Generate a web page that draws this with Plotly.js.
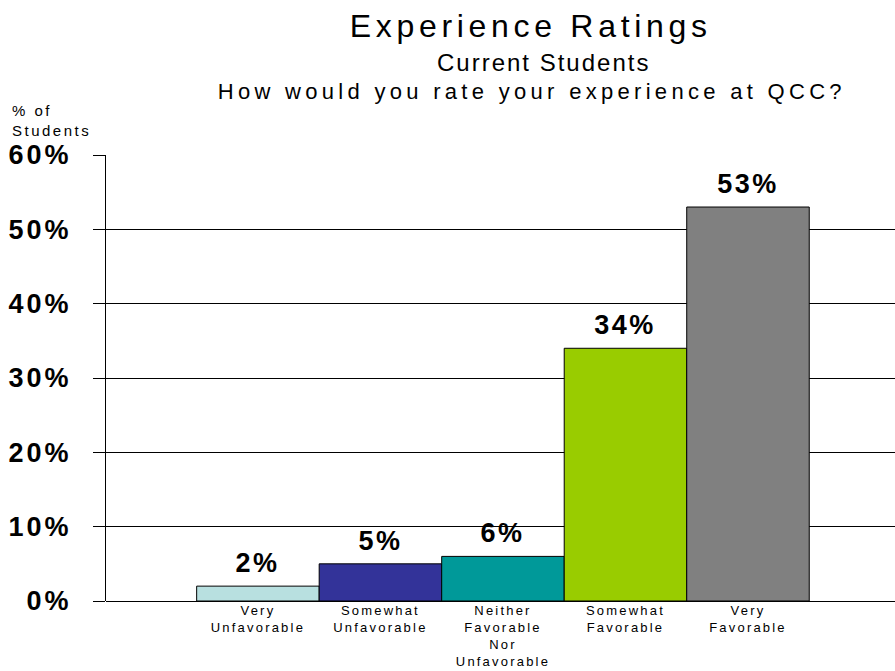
<!DOCTYPE html>
<html>
<head>
<meta charset="utf-8">
<script src="https://cdn.plot.ly/plotly-3.0.1.min.js"></script>
<style>
  html, body { margin: 0; padding: 0; background: #fff; }
  #chart { width: 895px; height: 671px; }
  .gtitle { letter-spacing: 4.7px; }
</style>
</head>
<body>
<div id="chart"></div>
<script>
// Data
const categories = ["Very<br>Unfavorable", "Somewhat<br>Unfavorable", "Neither<br>Favorable<br>Nor<br>Unfavorable", "Somewhat<br>Favorable", "Very<br>Favorable"];
const values = [2, 5, 6, 34, 53];
const barColors = ["#B8E0E0", "#333399", "#009999", "#99CC00", "#808080"];
const yTickVals = [0, 10, 20, 30, 40, 50, 60];
const yTickText = ["0%", "10%", "20%", "30%", "40%", "50%", "60%"];
const titleLines = ["Experience Ratings", "Current Students", "How would you rate your experience at QCC?"];
const yTitle = "% of<br>Students";

const FONT = "Liberation Sans, Arial, sans-serif";

const trace = {
  type: "bar",
  x: categories,
  y: values,
  marker: { color: barColors, line: { color: "#000", width: 1 } },
  hoverinfo: "skip"
};

const annotations = values.map((v, i) => ({
  x: categories[i], y: v, xref: "x", yref: "y",
  text: "<b>" + v + "%</b>",
  showarrow: false, yanchor: "bottom", yshift: 6,
  font: { family: FONT, size: 27, color: "#000" }
}));

annotations.push({
  xref: "paper", yref: "paper", x: 0.555, y: 1.2065,
  text: titleLines[1], showarrow: false, xanchor: "center", yanchor: "middle",
  font: { family: FONT, size: 24, color: "#000" }
});
annotations.push({
  xref: "paper", yref: "paper", x: 0.540, y: 1.142,
  text: titleLines[2], showarrow: false, xanchor: "center", yanchor: "middle",
  font: { family: FONT, size: 22, color: "#000" }
});
annotations.push({
  xref: "paper", yref: "paper", x: -0.1217, y: 1.077,
  text: yTitle, showarrow: false, xanchor: "left", yanchor: "middle", align: "left",
  font: { family: FONT, size: 15, color: "#000" }
});

const layout = {
  width: 895, height: 671,
  margin: { l: 106, r: 0, t: 155, b: 70, pad: 0 },
  paper_bgcolor: "#fff", plot_bgcolor: "#fff",
  showlegend: false,
  bargap: 0,
  title: {
    text: titleLines[0],
    x: 0.593, xref: "container", xanchor: "center",
    y: 0.961, yref: "container", yanchor: "middle",
    font: { family: FONT, size: 32, color: "#000" }
  },
  xaxis: {
    type: "category",
    range: [-1.24, 5.2],
    showgrid: false, zeroline: false,
    showline: false,
    ticks: "",
    tickfont: { family: FONT, size: 13, color: "#000" },
    automargin: false, fixedrange: true
  },
  yaxis: {
    range: [0, 60],
    tickvals: yTickVals, ticktext: yTickText,
    showgrid: true, gridcolor: "#000", gridwidth: 1,
    zeroline: true, zerolinecolor: "#000", zerolinewidth: 1,
    showline: true, linecolor: "#000", linewidth: 1,
    ticks: "outside", ticklen: 12, tickcolor: "#000", tickwidth: 1,
    ticklabelstandoff: 16,
    tickfont: { family: FONT, size: 27, color: "#000", weight: "bold" },
    automargin: false, fixedrange: true
  },
  annotations: annotations
};

function applySpacing() {
  document.querySelectorAll(".ytick text, text.ytick").forEach(el => { el.style.letterSpacing = "3px"; });
  document.querySelectorAll(".xtick text, text.xtick").forEach(el => { el.style.letterSpacing = "2.2px"; });
  document.querySelectorAll(".annotation-text").forEach(el => {
    const t = el.textContent;
    if (t === titleLines[1]) el.style.letterSpacing = "2px";
    else if (t === titleLines[2]) el.style.letterSpacing = "4.3px";
    else el.style.letterSpacing = "2.5px";
  });
}

Plotly.newPlot("chart", [trace], layout, { displayModeBar: false, staticPlot: true }).then(applySpacing);
</script>
</body>
</html>
